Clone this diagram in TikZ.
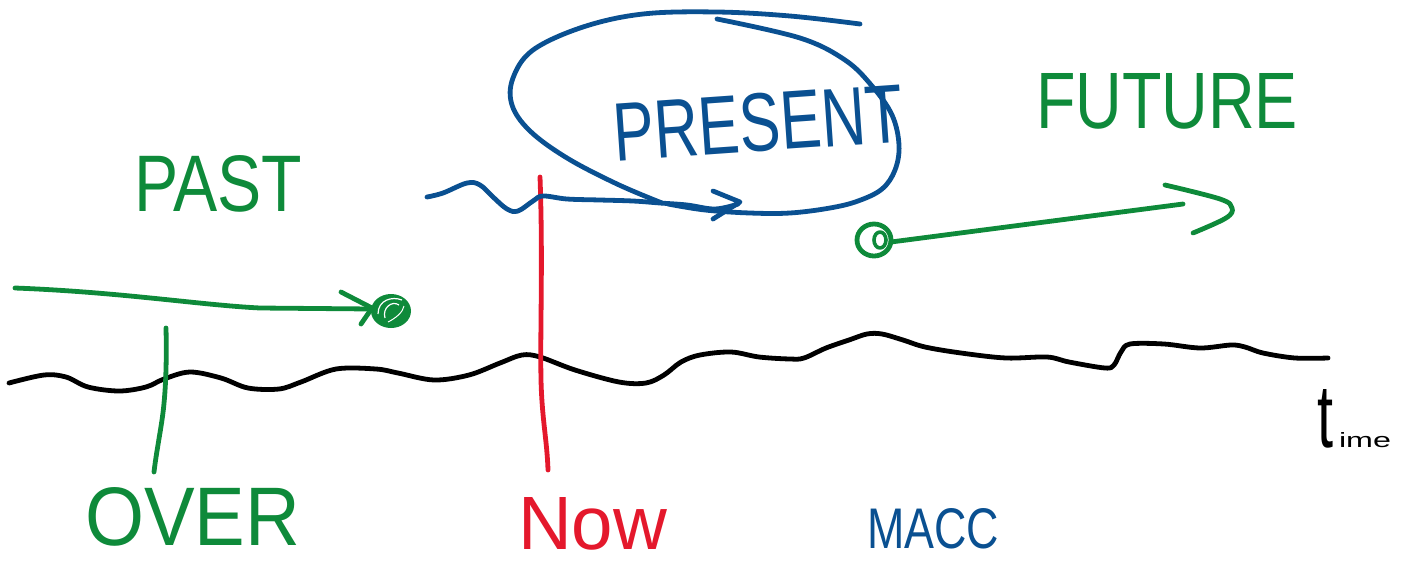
\documentclass[tikz,border=0pt]{standalone}
\usepackage{fontspec}
\setmainfont{Liberation Sans}
\usepackage{graphicx}
\definecolor{pgreen}{RGB}{14,138,58}
\definecolor{pblue}{RGB}{10,80,145}
\definecolor{pred}{RGB}{228,24,44}
\begin{document}
\begin{tikzpicture}[x=0.5pt,y=-0.5pt,
  pen/.style={line width=2.4pt,line cap=round,line join=round},
  lbl/.style={inner sep=0pt,outer sep=0pt,anchor=base west}]
\useasboundingbox (0,0) rectangle (1406,563);
\clip (0,0) rectangle (1406,563);

% time axis (wavy black line)
\draw[pen,black] plot[smooth,tension=0.55] coordinates {
 (9,383) (44,375) (66,377) (88,387) (119,391) (146,387) (164,379) (190,372) (221,378)
 (248,388) (279,389) (301,382) (336,369) (376,369) (398,373) (434,380) (469,375)
 (500,363) (522,355) (540,357) (575,370) (619,382) (646,383) (664,375) (681,362)
 (700,355) (731,352) (759,357) (790,359) (804,358) (826,348) (849,340) (867,334)
 (882,334) (903,340) (925,347) (961,353) (1006,358) (1047,357) (1069,362) (1105,368)
 (1114,365) (1121,352) (1130,344) (1164,344) (1200,348) (1231,345) (1245,347)
 (1263,353) (1295,358) (1328,358)};
\node[lbl,black] (time) at (1317,447) {\resizebox{8pt}{29pt}{t}\hspace{3pt}\resizebox{26pt}{7.5pt}{ime}};

% NOW marker
\coordinate (nowtop) at (540,177);
\coordinate (nowbot) at (548,470);
\draw[pen,pred] (nowtop) .. controls (543,260) and (540,330) .. (541,380) .. controls (542,420) and (547,440) .. (nowbot);
\node[lbl,pred] (now) at (518,549) {\resizebox{74.5pt}{26pt}{Now}};

% PAST
\node[lbl,pgreen] (past) at (134,211) {\resizebox{84pt}{28pt}{PAST}};
\coordinate (paststart) at (15,288);
\coordinate (pastdot) at (391,311);
\draw[pen,pgreen] (paststart) .. controls (120,292) and (200,305) .. (260,308) -- (372,309);
\draw[pen,pgreen] (341,292) -- (372,308) -- (361,324);
\fill[pgreen] (pastdot) ellipse [x radius=20, y radius=17];
\draw[white,line width=0.6pt] (385,318) .. controls (382,308) and (392,300) .. (399,305);
\draw[white,line width=0.6pt] (378,314) .. controls (378,300) and (392,296) .. (402,300);
\draw[white,line width=0.5pt] (388,322) .. controls (396,318) and (403,312) .. (404,306);

% OVER
\coordinate (overtop) at (166,328);
\coordinate (overbot) at (154,472);
\draw[pen,pgreen] (overtop) .. controls (167,370) and (165,400) .. (162,420) .. controls (159,440) and (156,455) .. (overbot);
\node[lbl,pgreen] (over) at (85,545) {\resizebox{107.5pt}{29pt}{OVER}};

% PRESENT
\node[inner sep=0pt,outer sep=0pt,pblue,rotate=4] (present) at (758,123) {\resizebox{145pt}{29pt}{PRESENT}};
\draw[pen,pblue] plot[smooth,tension=0.6] coordinates {
 (427,197) (443,193) (467,183) (480,185) (493,197) (507,209) (518,211) (533,201)
 (543,196) (567,199) (600,200) (633,201) (660,203) (687,205) (715,209) (738,204)};
\coordinate (presarrow) at (740,202);
\draw[pen,pblue] (713,191) -- (presarrow) -- (713,219);
\draw[pen,pblue] plot[smooth,tension=0.6] coordinates {
 (662,203) (617,184) (567,158) (530,131) (512,105) (513,78) (533,50) (583,27)
 (643,14) (717,12) (790,16) (860,24)};
\draw[pen,pblue] plot[smooth,tension=0.6] coordinates {
 (717,19) (800,38) (845,60) (872,86) (892,115) (899,145) (895,170) (882,189)
 (858,201) (830,208) (790,213) (750,213) (705,210) (668,204)};

% FUTURE
\node[lbl,pgreen] (future) at (1036,128) {\resizebox{131pt}{27.5pt}{FUTURE}};
\coordinate (futdot) at (874,240);
\coordinate (futend) at (1183,204);
\draw[pen,pgreen] (futdot) ellipse [x radius=17, y radius=16];
\draw[pen,pgreen,line width=1.8pt] (880,240) ellipse [x radius=6, y radius=8];
\draw[pen,pgreen] (891,242) -- (futend);
\draw[pen,pgreen] plot[smooth,tension=0.6] coordinates {(1165,185) (1220,199) (1232,208) (1226,218) (1193,233)};

% MACC
\node[lbl,pblue] (macc) at (867,548) {\resizebox{66pt}{20pt}{MACC}};
\end{tikzpicture}
\end{document}
